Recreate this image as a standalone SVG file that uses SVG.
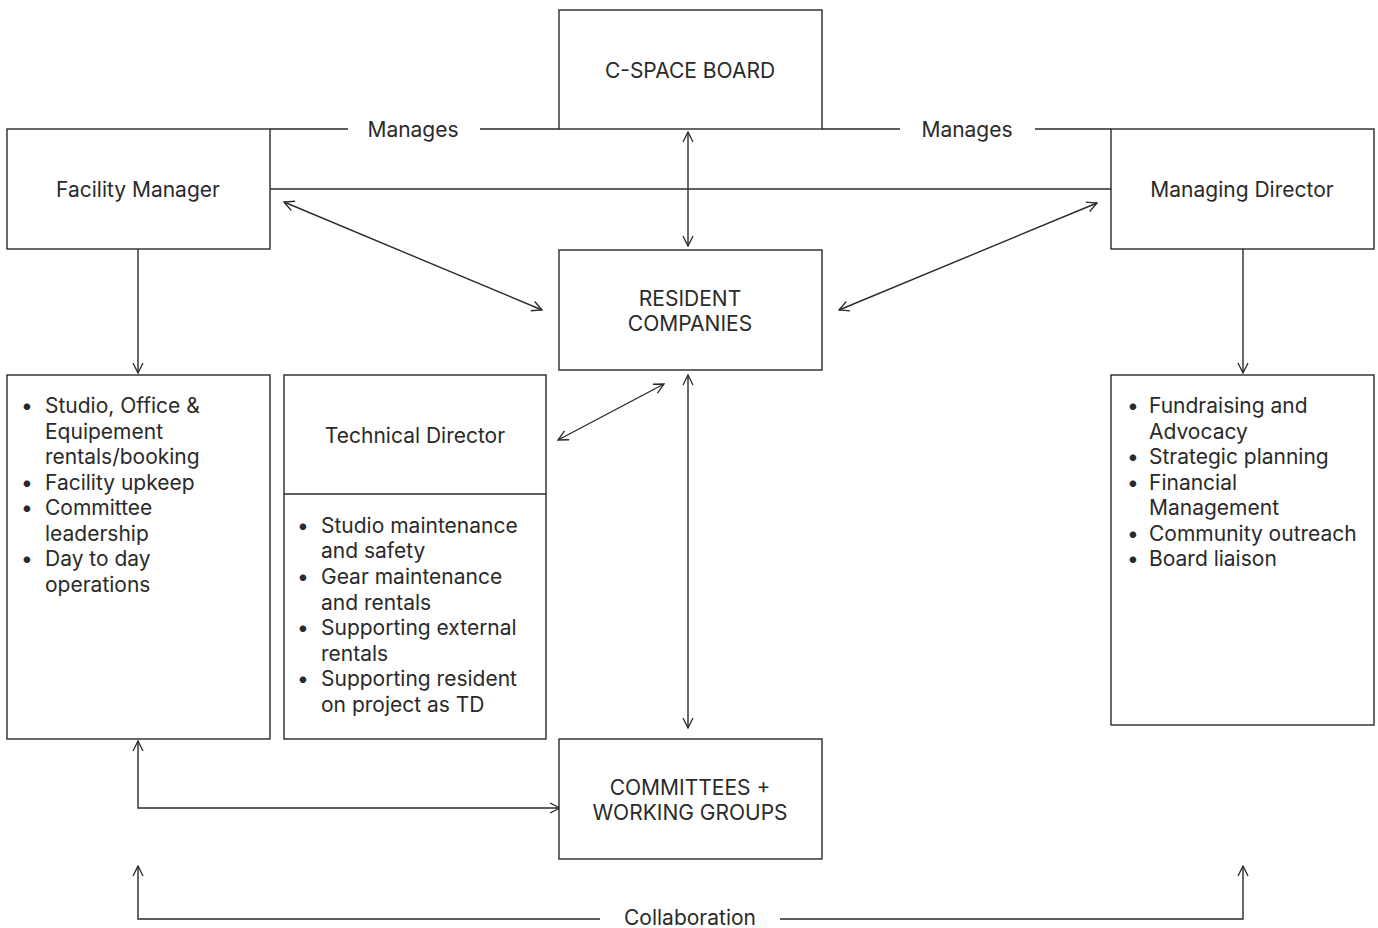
<svg xmlns="http://www.w3.org/2000/svg" width="1378" height="928" viewBox="0 0 1378 928">
<defs>
<marker id="arr" viewBox="0 0 12 12" refX="11" refY="6" markerWidth="12" markerHeight="12" markerUnits="userSpaceOnUse" orient="auto-start-reverse">
<path d="M1,1 L11,6 L1,11" fill="none" stroke="#2a2a2a" stroke-width="1.3"/>
</marker>
<style>
.box{fill:#fff;stroke:#2a2a2a;stroke-width:1.4}
.ln{fill:none;stroke:#2a2a2a;stroke-width:1.4}
.t{font-family:Inter,"Liberation Sans",sans-serif;font-size:21px;fill:#2a2a2a}
.c{text-anchor:middle}
</style>
</defs>
<rect width="1378" height="928" fill="#fff"/>
<g id="connectors">
<path class="ln" d="M270,129 H348 M480,129 H559 M822,129 H900 M1035,129 H1111"/>
<path class="ln" d="M270,189 H1111"/>
<path class="ln" d="M688,132 V246" marker-start="url(#arr)" marker-end="url(#arr)"/>
<path class="ln" d="M284,202 L542,310" marker-start="url(#arr)" marker-end="url(#arr)"/>
<path class="ln" d="M1097,203 L839,310" marker-start="url(#arr)" marker-end="url(#arr)"/>
<path class="ln" d="M138,249 V373" marker-end="url(#arr)"/>
<path class="ln" d="M1243,249 V373" marker-end="url(#arr)"/>
<path class="ln" d="M558,440 L664,384" marker-start="url(#arr)" marker-end="url(#arr)"/>
<path class="ln" d="M688,375 V728" marker-start="url(#arr)" marker-end="url(#arr)"/>
<path class="ln" d="M138,741 V808 H560" marker-start="url(#arr)" marker-end="url(#arr)"/>
<path class="ln" d="M138,866 V919 H600" marker-start="url(#arr)"/>
<path class="ln" d="M780,919 H1243 V866" marker-end="url(#arr)"/>
<text class="t c" x="413" y="137">Manages</text>
<text class="t c" x="967" y="137">Manages</text>
<text class="t c" x="690" y="925">Collaboration</text>
</g>
<g id="board">
<rect class="box" x="559" y="10" width="263" height="119"/>
<text class="t c" x="690" y="78">C-SPACE BOARD</text>
</g>
<g id="facility-manager">
<rect class="box" x="7" y="129" width="263" height="120"/>
<text class="t c" x="138" y="197">Facility Manager</text>
</g>
<g id="managing-director">
<rect class="box" x="1111" y="129" width="263" height="120"/>
<text class="t c" x="1242" y="197">Managing Director</text>
</g>
<g id="resident-companies">
<rect class="box" x="559" y="250" width="263" height="120"/>
<text class="t c" x="690" y="306">RESIDENT</text>
<text class="t c" x="690" y="331">COMPANIES</text>
</g>
<g id="fm-duties">
<rect class="box" x="7" y="375" width="263" height="364"/>
<g class="t">
<text x="21" y="413">•</text><text x="45" y="413">Studio, Office &amp;</text>
<text x="45" y="439">Equipement</text>
<text x="45" y="464">rentals/booking</text>
<text x="21" y="490">•</text><text x="45" y="490">Facility upkeep</text>
<text x="21" y="515">•</text><text x="45" y="515">Committee</text>
<text x="45" y="541">leadership</text>
<text x="21" y="566">•</text><text x="45" y="566">Day to day</text>
<text x="45" y="592">operations</text>
</g>
</g>
<g id="technical-director">
<rect class="box" x="284" y="375" width="262" height="364"/>
<path class="ln" d="M284,494 H546"/>
<text class="t c" x="415" y="443">Technical Director</text>
<g class="t">
<text x="297" y="533">•</text><text x="321" y="533">Studio maintenance</text>
<text x="321" y="558">and safety</text>
<text x="297" y="584">•</text><text x="321" y="584">Gear maintenance</text>
<text x="321" y="610">and rentals</text>
<text x="297" y="635">•</text><text x="321" y="635">Supporting external</text>
<text x="321" y="661">rentals</text>
<text x="297" y="686">•</text><text x="321" y="686">Supporting resident</text>
<text x="321" y="712">on project as TD</text>
</g>
</g>
<g id="md-duties">
<rect class="box" x="1111" y="375" width="263" height="350"/>
<g class="t">
<text x="1127" y="413">•</text><text x="1149" y="413">Fundraising and</text>
<text x="1149" y="439">Advocacy</text>
<text x="1127" y="464">•</text><text x="1149" y="464">Strategic planning</text>
<text x="1127" y="490">•</text><text x="1149" y="490">Financial</text>
<text x="1149" y="515">Management</text>
<text x="1127" y="541">•</text><text x="1149" y="541">Community outreach</text>
<text x="1127" y="566">•</text><text x="1149" y="566">Board liaison</text>
</g>
</g>
<g id="committees">
<rect class="box" x="559" y="739" width="263" height="120"/>
<text class="t c" x="690" y="795">COMMITTEES +</text>
<text class="t c" x="690" y="820">WORKING GROUPS</text>
</g>
</svg>
